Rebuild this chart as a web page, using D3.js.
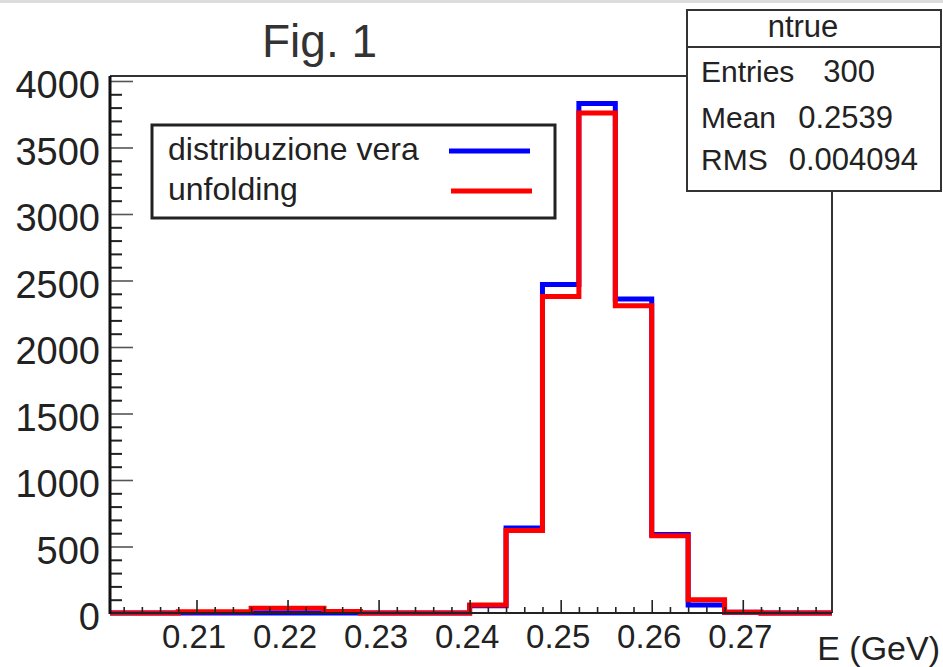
<!DOCTYPE html>
<html><head><meta charset="utf-8">
<script src="https://cdn.jsdelivr.net/npm/d3@7"></script>
<style>html,body{margin:0;padding:0;background:#fff;} svg{display:block;font-family:"Liberation Sans",Arial,Helvetica,sans-serif;}</style>
</head><body><svg id="c" width="943" height="667"></svg>
<script>
const binEdges = [0.200,0.204,0.208,0.212,0.216,0.220,0.224,0.228,0.232,0.236,0.240,0.244,0.248,0.252,0.256,0.260,0.264,0.268,0.272,0.276,0.280];
const trueCounts = [0,0,0,0,0,0,0,0,0,0,55,640,2470,3830,2360,590,60,5,0,0];
const unfoldCounts = [0,0,10,10,35,35,12,0,0,0,60,620,2380,3760,2310,580,100,5,0,0];
const xTickValues = [0.21,0.22,0.23,0.24,0.25,0.26,0.27];
const xTickLabels = ["0.21","0.22","0.23","0.24","0.25","0.26","0.27"];
const yTickValues = [0,500,1000,1500,2000,2500,3000,3500,4000];
const seriesNames = ["distribuzione vera","unfolding"];
const seriesColors = ["#0000ff","#ff0000"];
const statsTitle = "ntrue";
const statsLabels = ["Entries","Mean","RMS"];
const statsValues = ["300","0.2539","0.004094"];
const chartTitle = "Fig. 1";
const xTitle = "E (GeV)";

const svg = d3.select("#c");
const L = 110, R = 832, T = 77, B = 613;
const x = d3.scaleLinear().domain([0.2005, 0.2798]).range([L, R]);
const y = d3.scaleLinear().domain([0, 4030]).range([B, T]);

// top grey band
svg.append("rect").attr("x",0).attr("y",0).attr("width",943).attr("height",3).attr("fill","#dcdcdc");

// clip
svg.append("clipPath").attr("id","pc").append("rect").attr("x",L).attr("y",T-5).attr("width",R-L).attr("height",B-T+10);

// frame top/right
svg.append("line").attr("x1",L).attr("x2",R).attr("y1",76).attr("y2",76).attr("stroke","#333").attr("stroke-width",2);
svg.append("line").attr("x1",R).attr("x2",R).attr("y1",76).attr("y2",B).attr("stroke","#333").attr("stroke-width",2);

// histograms
function stepPoints(counts){
  const pts = counts.map((v,i)=>[binEdges[i], v]);
  pts.push([binEdges[binEdges.length-1], counts[counts.length-1]]);
  return pts;
}
const line = d3.line().x(d=>x(d[0])).y(d=>y(d[1])).curve(d3.curveStepAfter);
const g = svg.append("g").attr("clip-path","url(#pc)");
[trueCounts, unfoldCounts].forEach((c,i)=>{
  g.append("path").attr("d", line(stepPoints(c))).attr("fill","none")
    .attr("stroke", seriesColors[i]).attr("stroke-width",5).attr("stroke-linejoin","miter");
});

// y axis
const yMinor = d3.range(0, 4001, 100).filter(v => v % 500 !== 0);
svg.append("g").attr("transform",`translate(${L},0)`)
  .call(d3.axisLeft(y).tickValues(yMinor).tickSizeInner(-12).tickSizeOuter(0).tickFormat(""))
  .call(a=>a.select(".domain").remove())
  .call(a=>a.selectAll("line").attr("stroke","#222").attr("stroke-width",2));
const ya = svg.append("g").attr("transform",`translate(${L},0)`)
  .call(d3.axisLeft(y).tickValues(yTickValues).tickSizeInner(-23).tickSizeOuter(0).tickPadding(10).tickFormat(d3.format("d")))
  .call(a=>a.select(".domain").remove());
ya.selectAll("line").attr("stroke","#555").attr("stroke-width",1.6);
ya.selectAll("text").attr("font-size",38).attr("fill","#222").attr("dy","0.44em").attr("font-family",null);

// x axis
const xMinor = d3.range(0, 40).map(i => +(0.202 + i*0.002).toFixed(3)).filter(v => v < 0.2798 && Math.round(v*1000) % 10 !== 0);
svg.append("g").attr("transform",`translate(0,${B})`)
  .call(d3.axisBottom(x).tickValues(xMinor).tickSizeInner(-6).tickSizeOuter(0).tickFormat(""))
  .call(a=>a.select(".domain").remove())
  .call(a=>a.selectAll("line").attr("stroke","#222").attr("stroke-width",1.6));
const xa = svg.append("g").attr("transform",`translate(0,${B})`)
  .call(d3.axisBottom(x).tickValues(xTickValues).tickSizeInner(-13).tickSizeOuter(0).tickPadding(12).tickFormat((d,i)=>xTickLabels[i]))
  .call(a=>a.select(".domain").remove());
xa.selectAll("line").attr("stroke","#222").attr("stroke-width",1.6);
xa.selectAll("text").attr("font-size",33).attr("fill","#222").attr("dx",-3).attr("font-family",null);

// axis lines
svg.append("line").attr("x1",L).attr("x2",R).attr("y1",B).attr("y2",B).attr("stroke","#222").attr("stroke-width",2);
svg.append("line").attr("x1",L).attr("x2",L).attr("y1",T-1).attr("y2",B+1).attr("stroke","#111").attr("stroke-width",3);

// x title
svg.append("text").attr("x",940).attr("y",660).attr("text-anchor","end").attr("font-size",34).attr("fill","#222").text(xTitle);

// chart title
svg.append("text").attr("x",262).attr("y",57).attr("font-size",46).attr("fill","#333").text(chartTitle);

// legend
svg.append("rect").attr("x",152).attr("y",125).attr("width",403).attr("height",93).attr("fill","#fff").attr("stroke","#222").attr("stroke-width",3);
const legY = [160, 200], legLineY = [151, 191];
seriesNames.forEach((n,i)=>{
  svg.append("text").attr("x",168).attr("y",legY[i]).attr("font-size",32).attr("fill","#222").text(n);
  svg.append("line").attr("x1",449+2*i).attr("x2",530+2*i).attr("y1",legLineY[i]).attr("y2",legLineY[i]).attr("stroke",seriesColors[i]).attr("stroke-width",5);
});

// stats box
svg.append("rect").attr("x",687).attr("y",10).attr("width",254).attr("height",181).attr("fill","#fff").attr("stroke","#333").attr("stroke-width",2);
svg.append("line").attr("x1",687).attr("x2",941).attr("y1",47).attr("y2",47).attr("stroke","#333").attr("stroke-width",2);
svg.append("text").attr("x",803).attr("y",37).attr("text-anchor","middle").attr("font-size",31).attr("fill","#222").text(statsTitle);
const sY = [82,128,170], sValEnd = [875,893,918];
statsLabels.forEach((l,i)=>{
  svg.append("text").attr("x",701).attr("y",sY[i]).attr("font-size",30).attr("fill","#222").text(l);
  svg.append("text").attr("x",sValEnd[i]).attr("y",sY[i]).attr("text-anchor","end").attr("font-size",31).attr("fill","#222").text(statsValues[i]);
});
</script></body></html>
